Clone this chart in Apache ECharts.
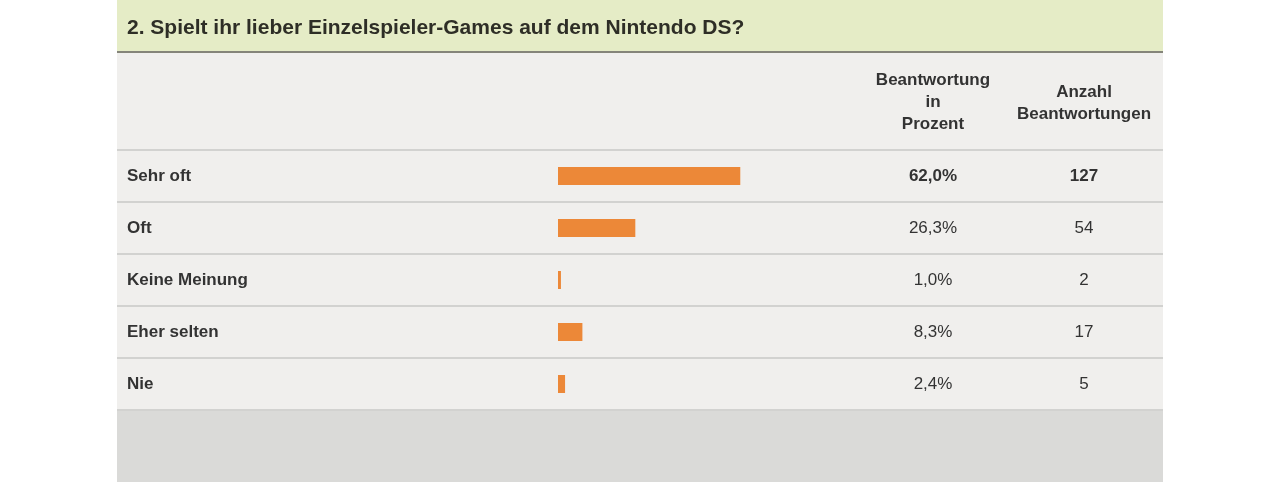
<!DOCTYPE html>
<html>
<head>
<meta charset="utf-8">
<script src="https://cdn.jsdelivr.net/npm/echarts@6/dist/echarts.min.js"></script>
<style>
  html, body { margin: 0; padding: 0; background: #fff; }
  #chart { width: 1280px; height: 482px; }
</style>
</head>
<body>
<div id="chart"></div>
<script>
// ===== 数据 =====
var answers = ['Sehr oft', 'Oft', 'Keine Meinung', 'Eher selten', 'Nie'];
var percents = [62.0, 26.3, 1.0, 8.3, 2.4];
var counts = [127, 54, 2, 17, 5];
var titleText = '2. Spielt ihr lieber Einzelspieler-Games auf dem Nintendo DS?';
var colHeaders = ['Beantwortung\nin\nProzent', 'Anzahl\nBeantwortungen'];

var FONT = 'Arial, "Liberation Sans", sans-serif';
var TXT = '#333333';

function fmtPct(v) { return v.toFixed(1).replace('.', ',') + '%'; }

var chart = echarts.init(document.getElementById('chart'));

// Zeilen-Trennlinien
var lines = [];
[150, 202, 254, 306, 358, 410].forEach(function (y) {
    lines.push({
        type: 'rect', silent: true, z: 1,
        shape: { x: 117, y: y - 1, width: 1046, height: 2 },
        style: { fill: '#d2d2d0' }
    });
});

chart.setOption({
    backgroundColor: '#ffffff',
    animation: false,
    textStyle: { fontFamily: FONT },
    title: {
        text: titleText,
        left: 127, top: 18, padding: 0,
        textStyle: { fontSize: 21, fontWeight: 'bold', color: '#2e2e26', fontFamily: FONT }
    },
    graphic: [
        { type: 'rect', silent: true, z: 0, shape: { x: 117, y: 0, width: 1046, height: 52 }, style: { fill: '#e5ecc6' } },
        { type: 'rect', silent: true, z: 0, shape: { x: 117, y: 52, width: 1046, height: 358 }, style: { fill: '#f0efed' } },
        { type: 'rect', silent: true, z: 0, shape: { x: 117, y: 410, width: 1046, height: 72 }, style: { fill: '#dadad8' } },
        { type: 'rect', silent: true, z: 1, shape: { x: 117, y: 51, width: 1046, height: 2 }, style: { fill: '#85857a' } },
        {
            type: 'text', z: 2, x: 933, y: 102,
            style: { text: colHeaders[0], align: 'center', verticalAlign: 'middle', font: 'bold 17px ' + FONT, fill: TXT, lineHeight: 22 }
        },
        {
            type: 'text', z: 2, x: 1084, y: 103,
            style: { text: colHeaders[1], align: 'center', verticalAlign: 'middle', font: 'bold 17px ' + FONT, fill: TXT, lineHeight: 22 }
        }
    ].concat(lines),
    grid: { left: 558, top: 150, width: 294, height: 260 },
    xAxis: {
        type: 'value', min: 0, max: 100, show: false
    },
    yAxis: [
        {
            type: 'category', data: answers, inverse: true, position: 'left',
            axisLine: { show: false }, axisTick: { show: false },
            axisLabel: {
                align: 'left', margin: 431,
                fontSize: 17, fontWeight: 'bold', color: TXT, fontFamily: FONT
            }
        },
        {
            type: 'category', data: answers, inverse: true, position: 'right',
            axisLine: { show: false }, axisTick: { show: false },
            axisLabel: {
                align: 'center', margin: 81, fontSize: 17, color: TXT, fontFamily: FONT,
                formatter: function (v, i) {
                    return i === 0 ? '{b|' + fmtPct(percents[i]) + '}' : fmtPct(percents[i]);
                },
                rich: { b: { fontWeight: 'bold', fontSize: 17, color: TXT, fontFamily: FONT } }
            }
        },
        {
            type: 'category', data: answers, inverse: true, position: 'right', offset: 0,
            axisLine: { show: false }, axisTick: { show: false },
            axisLabel: {
                align: 'center', margin: 232, fontSize: 17, color: TXT, fontFamily: FONT,
                formatter: function (v, i) {
                    return i === 0 ? '{b|' + counts[i] + '}' : String(counts[i]);
                },
                rich: { b: { fontWeight: 'bold', fontSize: 17, color: TXT, fontFamily: FONT } }
            }
        }
    ],
    series: [
        {
            type: 'bar',
            data: percents,
            barWidth: 18,
            z: 3,
            itemStyle: { color: '#ec8838' }
        }
    ]
});
</script>
</body>
</html>
